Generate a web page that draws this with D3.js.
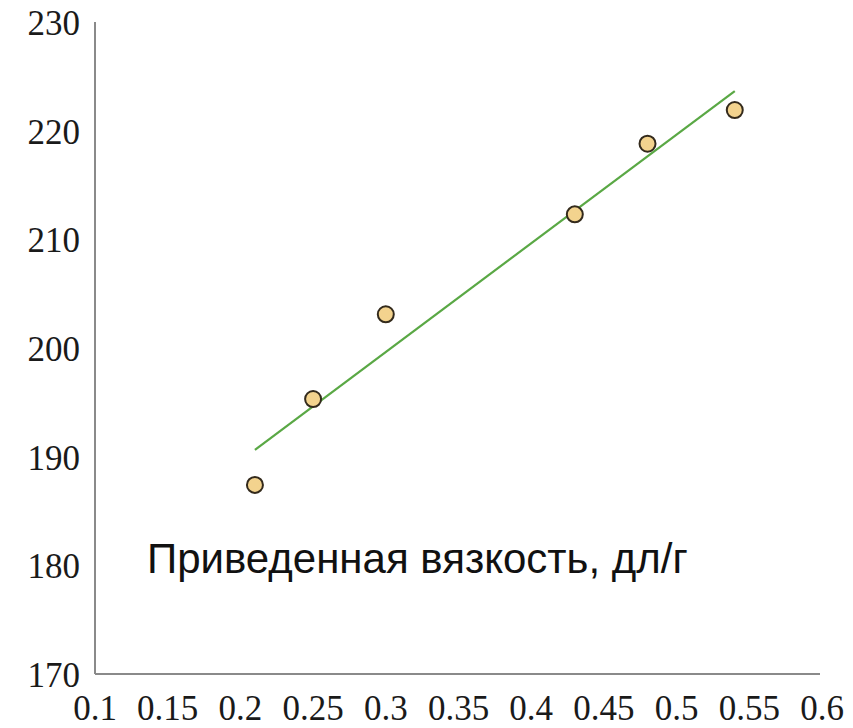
<!DOCTYPE html>
<html><head><meta charset="utf-8">
<script src="https://cdn.jsdelivr.net/npm/d3@7/dist/d3.min.js"></script>
<style>body{margin:0;background:#fff}svg{display:block}</style>
</head><body>
<svg id="c" width="853" height="728"></svg>
<script>
const xValues = [0.21, 0.25, 0.30, 0.43, 0.48, 0.54];
const yValues = [187.4, 195.3, 203.1, 212.3, 218.8, 221.9];
const xTicks = [0.1, 0.15, 0.2, 0.25, 0.3, 0.35, 0.4, 0.45, 0.5, 0.55, 0.6];
const yTicks = [170, 180, 190, 200, 210, 220, 230];
const annotation = "Приведенная вязкость, дл/г";

const svg = d3.select("#c");
const x = d3.scaleLinear().domain([0.1, 0.6]).range([95, 822]);
const y = d3.scaleLinear().domain([170, 230]).range([674, 22]);

svg.append("line").attr("x1", 95).attr("x2", 95).attr("y1", y(230)).attr("y2", 674)
  .attr("stroke", "#8a8a8a").attr("stroke-width", 2);
svg.append("line").attr("x1", 95).attr("x2", 820).attr("y1", 674).attr("y2", 674)
  .attr("stroke", "#8a8a8a").attr("stroke-width", 2);

const serif = "'Liberation Serif','Times New Roman',serif";
svg.selectAll("text.yt").data(yTicks).enter().append("text")
  .attr("x", 80).attr("y", d => y(d) + 13)
  .attr("text-anchor", "end").attr("font-family", serif).attr("font-size", 35)
  .attr("fill", "#1a1a1a").text(d => d);
svg.selectAll("text.xt").data(xTicks).enter().append("text")
  .attr("x", d => x(d)).attr("y", 720)
  .attr("text-anchor", "middle").attr("font-family", serif).attr("font-size", 35)
  .attr("fill", "#1a1a1a").text(d => String(d));

// linear regression trendline
const n = xValues.length;
const mx = d3.mean(xValues), my = d3.mean(yValues);
let sxy = 0, sxx = 0;
for (let i = 0; i < n; i++) { sxy += (xValues[i]-mx)*(yValues[i]-my); sxx += (xValues[i]-mx)**2; }
const slope = sxy/sxx, icpt = my - slope*mx;
const x0 = d3.min(xValues), x1 = d3.max(xValues);
svg.append("line").attr("x1", x(x0)).attr("y1", y(icpt+slope*x0))
  .attr("x2", x(x1)).attr("y2", y(icpt+slope*x1))
  .attr("stroke", "#5aa845").attr("stroke-width", 2.2);

svg.selectAll("circle").data(xValues.map((v,i)=>[v,yValues[i]])).enter().append("circle")
  .attr("cx", d => x(d[0])).attr("cy", d => y(d[1])).attr("r", 8)
  .attr("fill", "#f3d38e").attr("stroke", "#332a1c").attr("stroke-width", 2);

svg.append("text").attr("x", 147).attr("y", 573)
  .attr("font-family", "'Liberation Sans',Arial,sans-serif").attr("font-size", 42)
  .attr("fill", "#111").text(annotation);
</script>
</body></html>
